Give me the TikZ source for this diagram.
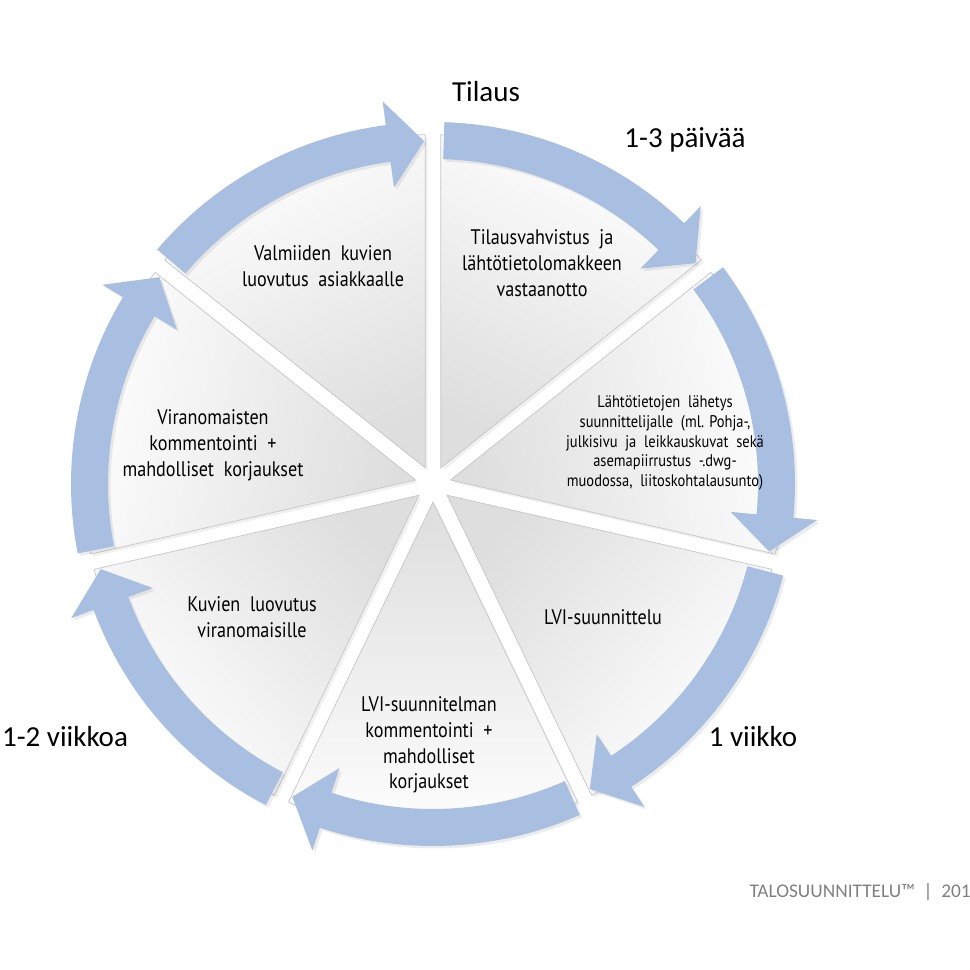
\documentclass[tikz,border=0pt]{standalone}
\usepackage{fontspec}
\setmainfont{Carlito}
\newfontfamily\stepfont[FakeStretch=0.86]{PT Sans}
\usetikzlibrary{shadows,calc}
\definecolor{arrowBlue}{RGB}{168,191,225}
\definecolor{footGray}{RGB}{128,128,128}
\tikzset{
    every node/.append style={align=center},
    slice/.style={draw=gray!45,line width=0.4pt,top color=white,bottom color=gray!26,
        drop shadow={opacity=0.12,shadow xshift=0.3ex,shadow yshift=-0.3ex}},
    cyclearrow/.style={fill=arrowBlue,draw=none,
        drop shadow={opacity=0.15,shadow xshift=0.3ex,shadow yshift=-0.3ex}},
    steptext/.style={font=\stepfont\fontsize{12}{14.7}\selectfont,text=black,inner sep=0pt},
    smallstep/.style={font=\stepfont\fontsize{9.6}{11.3}\selectfont,text=black,inner sep=0pt},
    timelbl/.style={font=\fontsize{16.5}{19}\selectfont,inner sep=0pt},
    footer/.style={font=\fontsize{11}{13}\selectfont,text=footGray,inner sep=0pt}
}

\begin{document}
\begin{tikzpicture}[x=0.02cm,y=0.02cm]
    \useasboundingbox (0,0) rectangle (970,970);
    % slices and arrows, clockwise from the top
    \begin{scope}[shift={(433,486)}]
        \foreach \k in {0,...,6}{
            \pgfmathsetmacro\a{90-\k*360/7}
            \pgfmathsetmacro\e{\a-360/7}
            \pgfmathsetmacro\b{\a-180/7}
            \pgfmathsetmacro\sa{\b-90}
            \draw[slice,shading angle=\sa] (\b:18) -- ++(\a:333)
                arc[start angle=\a,end angle=\e,radius=333] -- cycle;
        }
        \foreach \k in {0,...,6}{
            \pgfmathsetmacro\a{90-\k*360/7}
            \pgfmathsetmacro\t{\a-1.8}
            \pgfmathsetmacro\p{\a-360/7+1.5}
            \pgfmathsetmacro\h{\p+6}
            \fill[cyclearrow] (\t:362) arc[start angle=\t,end angle=\h,radius=362]
                -- (\h:386) -- (\p:343) -- (\h:299) -- (\h:325)
                arc[start angle=\h,end angle=\t,radius=325] -- cycle;
        }
    \end{scope}

    % texts of the steps
    \node[steptext]  (order)   at (542,707) {Tilausvahvistus\ \ ja\\lähtötietolomakkeen\\vastaanotto};
    \node[smallstep] (send)    at (665,527) {Lähtötietojen\ \ lähetys\\suunnittelijalle\ \ (ml. Pohja-,\\julkisivu\ \ ja\ \ leikkauskuvat\ \ sekä\\asemapiirrustus\ \ -.dwg-\\muodossa,\ \ liitoskohtalausunto)};
    \node[steptext]  (hvac)    at (603,353) {LVI-suunnittelu};
    \node[steptext]  (hvaccom) at (429,225) {LVI-suunnitelman\\kommentointi\ \ +\\mahdolliset\\korjaukset};
    \node[steptext]  (deliver) at (252,353) {Kuvien\ \ luovutus\\viranomaisille};
    \node[steptext]  (authcom) at (213,525) {Viranomaisten\\kommentointi\ \ +\\mahdolliset\ \ korjaukset};
    \node[steptext]  (final)   at (323,704) {Valmiiden\ \ kuvien\\luovutus\ \ asiakkaalle};

    % durations
    \node[timelbl] (start) at (486,878) {Tilaus};
    \node[timelbl] (days)  at (685,830) {1-3 päivää};
    \node[timelbl] (week)  at (753,233) {1 viikko};
    \node[timelbl] (weeks) at (65,233)  {1-2 viikkoa};

    \node[footer,anchor=east] (foot) at (971,78) {TALOSUUNNITTELU™\ \ |\ \ 201};
\end{tikzpicture}
\end{document}
